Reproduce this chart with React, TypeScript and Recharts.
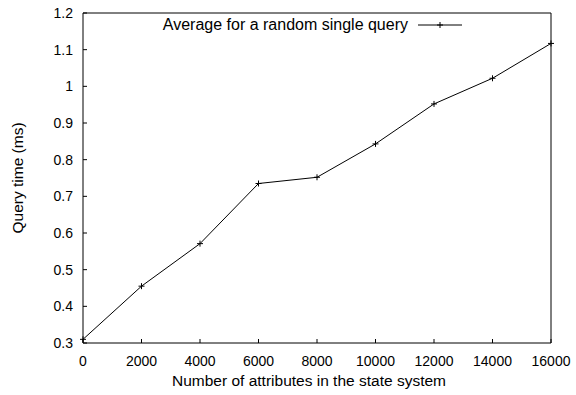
import * as React from "react"
import { LineChart, Line, XAxis, YAxis, Legend } from "recharts"

const attributes = [0, 2000, 4000, 6000, 8000, 10000, 12000, 14000, 16000]
const queryTimes = [0.31, 0.455, 0.571, 0.735, 0.752, 0.843, 0.952, 1.022, 1.117]
const xTicks = [0, 2000, 4000, 6000, 8000, 10000, 12000, 14000, 16000]
const yTicks = [0.3, 0.4, 0.5, 0.6, 0.7, 0.8, 0.9, 1, 1.1, 1.2]
const seriesName = "Average for a random single query"

const data = attributes.map((x, i) => ({ x, y: queryTimes[i] }))

const FONT = "'Liberation Sans', Arial, Helvetica, sans-serif"
const INK = "#000"

function renderPlus(props: any) {
  const { cx, cy, index } = props
  if (cx == null || cy == null) return <g key={index} />
  const s = 3
  return (
    <path
      key={index}
      d={`M${cx - s},${cy}H${cx + s}M${cx},${cy - s}V${cy + s}`}
      stroke={INK}
      strokeWidth={1}
      fill="none"
    />
  )
}

function KeyBox() {
  return (
    <div
      style={{
        display: "flex",
        justifyContent: "flex-end",
        alignItems: "center",
        height: 20,
        fontFamily: FONT,
        fontSize: 16,
        color: INK,
        whiteSpace: "nowrap",
      }}
    >
      <span>{seriesName}</span>
      <svg width={54} height={20} style={{ display: "block" }}>
        <line x1={10} x2={54} y1={10} y2={10} stroke={INK} strokeWidth={1} />
        <path d="M29,10H35M32,7V13" stroke={INK} strokeWidth={1} />
      </svg>
    </div>
  )
}

const fmtY = (v: number) => String(Number(v.toFixed(1)))

export default function App() {
  const tickStyle = { fill: INK, fontSize: 14, fontFamily: FONT }
  return (
    <div style={{ position: "absolute", left: 0, top: 0, width: 576, height: 395, background: "#fff" }}>
      <LineChart
        width={576}
        height={395}
        data={data}
        margin={{ top: 12, right: 24, bottom: 22, left: 23 }}
        style={{ fontFamily: FONT }}
      >
        <XAxis
          dataKey="x"
          type="number"
          domain={[0, 16000]}
          ticks={xTicks}
          interval={0}
          height={30}
          tickSize={-4}
          tickMargin={17}
          tick={tickStyle}
          stroke={INK}
          label={{
            value: "Number of attributes in the state system",
            position: "bottom",
            offset: 2,
            dx: -8,
            fill: INK,
            fontSize: 15.5,
          }}
        />
        <XAxis
          xAxisId="top"
          dataKey="x"
          type="number"
          orientation="top"
          domain={[0, 16000]}
          allowDataOverflow
          ticks={xTicks}
          interval={0}
          height={1}
          tickSize={-4}
          tick={false}
          stroke={INK}
        />
        <YAxis
          type="number"
          domain={[0.3, 1.2]}
          ticks={yTicks}
          interval={0}
          width={60}
          tickSize={-4}
          tickMargin={14}
          tick={tickStyle}
          tickFormatter={fmtY}
          stroke={INK}
          label={{
            value: "Query time (ms)",
            angle: -90,
            position: "left",
            offset: 6,
            fill: INK,
            fontSize: 15.5,
            style: { textAnchor: "middle" },
          }}
        />
        <YAxis
          yAxisId="right"
          type="number"
          orientation="right"
          domain={[0.3, 1.2]}
          allowDataOverflow
          ticks={yTicks}
          interval={0}
          width={1}
          tickSize={-4}
          tick={false}
          stroke={INK}
        />
        <Legend
          layout="vertical"
          align="center"
          verticalAlign="middle"
          content={() => <KeyBox />}
          wrapperStyle={{ top: 15, left: 0, width: 462 }}
        />
        <Line
          dataKey="y"
          name={seriesName}
          type="linear"
          stroke={INK}
          strokeWidth={1}
          dot={renderPlus}
          activeDot={false}
          isAnimationActive={false}
        />
      </LineChart>
    </div>
  )
}
